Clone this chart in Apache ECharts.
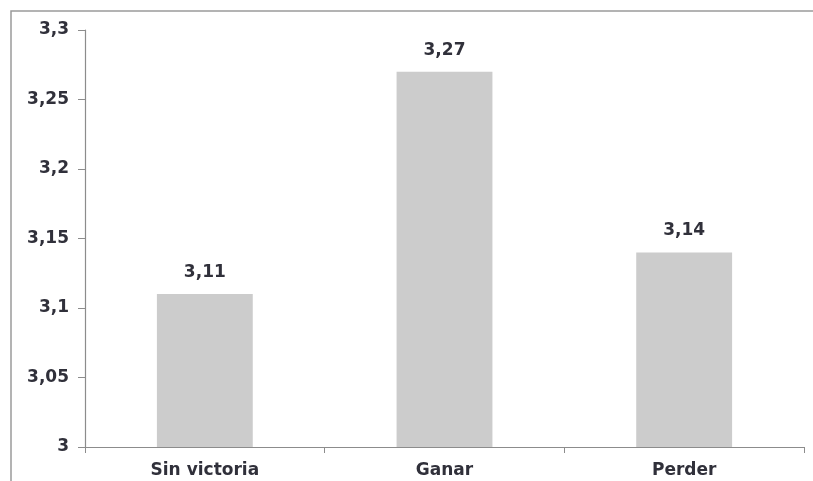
<!DOCTYPE html>
<html>
<head>
<meta charset="utf-8">
<script src="https://cdn.jsdelivr.net/npm/echarts@6/dist/echarts.min.js"></script>
<style>
  html, body { margin: 0; padding: 0; background: #fff; }
  #chart { width: 813px; height: 481px; }
</style>
</head>
<body>
<div id="chart"></div>
<script>
// Chart data
var categories = ['Sin victoria', 'Ganar', 'Perder'];
var values = [3.11, 3.27, 3.14];
var yTicks = [3, 3.05, 3.1, 3.15, 3.2, 3.25, 3.3];

function comma(v) {
  return String(v).replace('.', ',');
}

var chart = echarts.init(document.getElementById('chart'), null, { renderer: 'canvas' });
var font = 'DejaVu Sans';
var textStyle = { color: '#30303a', fontFamily: font, fontSize: 17, fontWeight: 'bold' };

chart.setOption({
  animation: false,
  backgroundColor: '#ffffff',
  graphic: [{
    type: 'polyline',
    shape: { points: [[11, 481], [11, 11], [813, 11]] },
    style: { stroke: '#9a9a9a', lineWidth: 1.5, fill: null },
    silent: true
  }],
  grid: { left: 85, right: 9, top: 30, bottom: 34 },
  xAxis: {
    type: 'category',
    data: categories,
    axisLine: { show: true, lineStyle: { color: '#8c8c8c', width: 1.2 } },
    axisTick: { show: true, alignWithLabel: false, length: 6, lineStyle: { color: '#8c8c8c' } },
    axisLabel: Object.assign({ margin: 15 }, textStyle),
    splitLine: { show: false }
  },
  yAxis: {
    type: 'value',
    min: yTicks[0],
    max: yTicks[yTicks.length - 1],
    interval: 0.05,
    axisLine: { show: true, lineStyle: { color: '#8c8c8c', width: 1.2 } },
    axisTick: { show: true, length: 7, lineStyle: { color: '#8c8c8c' } },
    axisLabel: Object.assign({
      margin: 16,
      formatter: function (v) { return comma(+v.toFixed(2)); }
    }, textStyle),
    splitLine: { show: false }
  },
  series: [{
    type: 'bar',
    data: values,
    barWidth: '40%',
    itemStyle: { color: '#cccccc' },
    label: Object.assign({
      show: true,
      position: 'top',
      distance: 13,
      formatter: function (p) { return comma(p.value); }
    }, textStyle)
  }]
});
</script>
</body>
</html>
